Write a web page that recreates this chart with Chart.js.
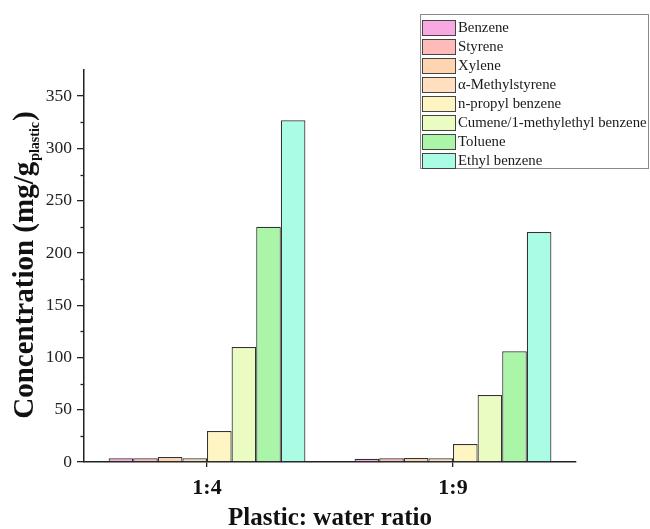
<!DOCTYPE html>
<html>
<head>
<meta charset="utf-8">
<script src="https://cdn.jsdelivr.net/npm/chart.js@4/dist/chart.umd.min.js"></script>
<style>
html,body{margin:0;padding:0;background:#fff;}
#wrap{width:650px;height:529px;}
</style>
</head>
<body>
<div id="wrap"><canvas id="c" width="650" height="529"></canvas></div>
<script>
const categories = ['1:4', '1:9'];
const seriesNames = ['Benzene', 'Styrene', 'Xylene', '\u03b1-Methylstyrene', 'n-propyl benzene', 'Cumene/1-methylethyl benzene', 'Toluene', 'Ethyl benzene'];
const benzene = [3.5, 3.0];
const styrene = [3.5, 3.5];
const xylene = [4.8, 3.8];
const methylstyrene = [3.5, 3.6];
const propylBenzene = [29.6, 17.2];
const cumene = [110, 64];
const toluene = [225, 106];
const ethylBenzene = [327, 220];
const seriesColors = ['#F9A9E1', '#FFBABA', '#FFD4B0', '#FFDFBD', '#FFF5C2', '#EAFCC2', '#ABF5A8', '#AAFCE4'];
const yTickLabels = [0, 50, 100, 150, 200, 250, 300, 350];
const yMinorTicks = [25, 75, 125, 175, 225, 275, 325];

const seriesValues = [benzene, styrene, xylene, methylstyrene, propylBenzene, cumene, toluene, ethylBenzene];
const SERIF = '"Liberation Serif", "Times New Roman", Times, serif';

const datasets = seriesNames.map((n, i) => ({
  label: n,
  data: seriesValues[i],
  backgroundColor: seriesColors[i],
  borderColor: '#333',
  borderWidth: 1.2,
  categoryPercentage: 0.8,
  barPercentage: 1.0
}));

const extras = {
  id: 'extras',
  afterDraw(chart) {
    const ctx = chart.ctx;
    const ys = chart.scales.y;
    // minor ticks
    ctx.save();
    ctx.strokeStyle = '#222';
    ctx.lineWidth = 1.3;
    yMinorTicks.forEach(v => {
      const py = Math.round(ys.getPixelForValue(v)) + 0.5;
      ctx.beginPath();
      ctx.moveTo(ys.right - 3.5, py);
      ctx.lineTo(ys.right, py);
      ctx.stroke();
    });
    ctx.restore();

    // y axis title with subscript
    ctx.save();
    ctx.translate(33, 266);
    ctx.rotate(-Math.PI / 2);
    ctx.fillStyle = '#111';
    ctx.textBaseline = 'alphabetic';
    const bigF = 'bold 29px ' + SERIF;
    const subF = 'bold 14px ' + SERIF;
    const p1 = 'Concentration (mg/g';
    const p2 = 'plastic';
    const p3 = ')';
    ctx.font = bigF; const w1 = ctx.measureText(p1).width; const w3 = ctx.measureText(p3).width;
    ctx.font = subF; const w2 = ctx.measureText(p2).width;
    let x = -(w1 + w2 + w3) / 2;
    ctx.font = bigF; ctx.textAlign = 'left';
    ctx.fillText(p1, x, 0); x += w1 + 1;
    ctx.font = subF; ctx.fillText(p2, x, 6); x += w2 + 1;
    ctx.font = bigF; ctx.fillText(p3, x, 0);
    ctx.restore();

    // legend box
    const lx = 420, ly = 14, lw = 228, lh = 154;
    ctx.save();
    ctx.fillStyle = '#fff';
    ctx.fillRect(lx, ly, lw, lh);
    ctx.strokeStyle = '#8a8a8a';
    ctx.lineWidth = 1;
    ctx.strokeRect(lx + 0.5, ly + 0.5, lw, lh);
    chart.data.datasets.forEach((ds, i) => {
      const y0 = ly + 6 + i * 19;
      ctx.fillStyle = ds.backgroundColor;
      ctx.fillRect(lx + 2, y0, 33, 15);
      ctx.strokeStyle = '#444';
      ctx.lineWidth = 1;
      ctx.strokeRect(lx + 2.5, y0 + 0.5, 33, 15);
      ctx.fillStyle = '#1a1a1a';
      ctx.font = '14.8px ' + SERIF;
      ctx.textAlign = 'left';
      ctx.textBaseline = 'middle';
      ctx.fillText(ds.label, lx + 38, y0 + 8);
    });
    ctx.restore();
  }
};

new Chart(document.getElementById('c'), {
  type: 'bar',
  data: { labels: categories, datasets },
  options: {
    responsive: false,
    animation: false,
    layout: { padding: { top: 70, right: 74, left: 0, bottom: 0 } },
    plugins: { legend: { display: false }, tooltip: { enabled: false } },
    scales: {
      x: {
        grid: { display: true, drawOnChartArea: false, offset: false, color: '#222', tickLength: 5, lineWidth: 1.3 },
        border: { display: true, color: '#222', width: 1.5 },
        ticks: { color: '#111', font: { family: SERIF, size: 22, weight: 'bold' }, padding: 8 },
        title: { display: true, text: 'Plastic: water ratio', color: '#111', font: { family: SERIF, size: 25, weight: 'bold' }, padding: { top: 0, bottom: -5 } },
        afterFit(s) { s.height = 67; }
      },
      y: {
        min: 0, max: 375,
        grid: { display: true, drawOnChartArea: false, color: (c) => (c.tick && yTickLabels.includes(c.tick.value)) ? '#222' : 'rgba(0,0,0,0)', tickLength: 7, lineWidth: 1.3 },
        border: { display: true, color: '#222', width: 1.5 },
        ticks: {
          stepSize: 25,
          color: '#222',
          font: { family: SERIF, size: 17.5 },
          padding: 5,
          callback: (v) => yTickLabels.includes(v) ? String(v) : ''
        },
        afterFit(s) { s.width = 84; }
      }
    }
  },
  plugins: [extras]
});
</script>
</body>
</html>
